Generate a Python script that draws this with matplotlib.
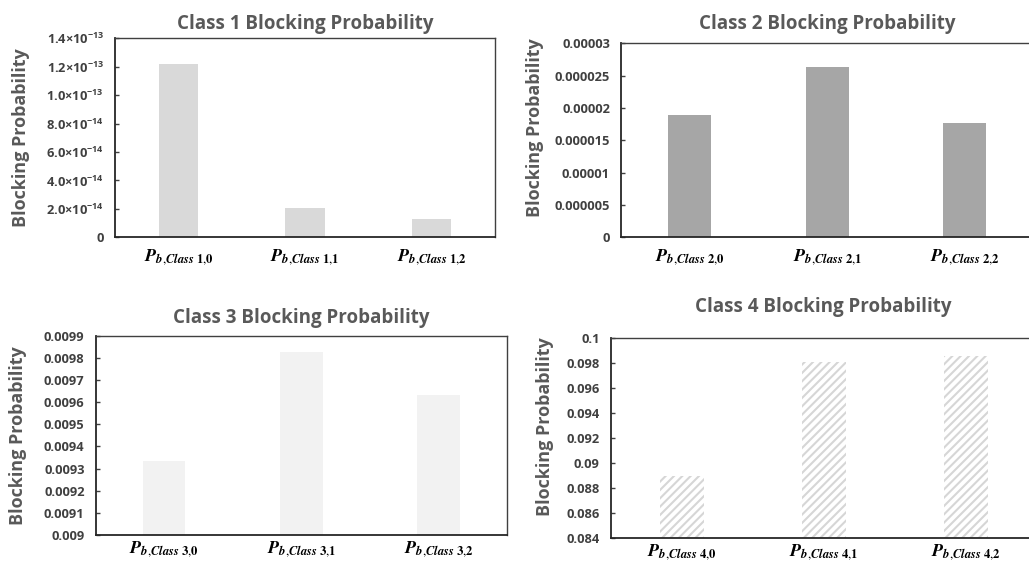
import matplotlib
matplotlib.use("Agg")
import matplotlib.pyplot as plt

plt.rcParams['font.family'] = ['Open Sans', 'DejaVu Sans']
plt.rcParams['mathtext.fontset'] = 'stix'
plt.rcParams['mathtext.rm'] = 'Open Sans:bold'
plt.rcParams['mathtext.bf'] = 'Open Sans:bold'
plt.rcParams['mathtext.it'] = 'Open Sans:bold:italic'
plt.rcParams['hatch.linewidth'] = 1.5

# data
class1_vals = [1.218e-13, 2.05e-14, 1.29e-14]
class2_vals = [1.89e-5, 2.636e-5, 1.775e-5]
class3_vals = [0.009332, 0.009827, 0.009633]
class4_vals = [0.08898, 0.09813, 0.09858]

class1_ticks = [0, 2e-14, 4e-14, 6e-14, 8e-14, 1e-13, 1.2e-13, 1.4e-13]
class1_ticklabels = ['0', r'2.0×10$^{-14}$', r'4.0×10$^{-14}$', r'6.0×10$^{-14}$',
                     r'8.0×10$^{-14}$', r'1.0×10$^{-13}$', r'1.2×10$^{-13}$', r'1.4×10$^{-13}$']
class2_ticks = [0, 0.000005, 0.00001, 0.000015, 0.00002, 0.000025, 0.00003]
class2_ticklabels = ['0', '0.000005', '0.00001', '0.000015', '0.00002', '0.000025', '0.00003']
class3_ticks = [0.009, 0.0091, 0.0092, 0.0093, 0.0094, 0.0095, 0.0096, 0.0097, 0.0098, 0.0099]
class3_ticklabels = ['0.009', '0.0091', '0.0092', '0.0093', '0.0094', '0.0095', '0.0096',
                     '0.0097', '0.0098', '0.0099']
class4_ticks = [0.084, 0.086, 0.088, 0.09, 0.092, 0.094, 0.096, 0.098, 0.1]
class4_ticklabels = ['0.084', '0.086', '0.088', '0.09', '0.092', '0.094', '0.096', '0.098', '0.1']


def xlabels(c):
    return [r'$\mathbfit{P}_{\mathbfit{b}{,}\mathbfit{Class}\ \mathbf{%d}{,}\mathbf{%d}}$' % (c, i)
            for i in range(3)]


fig = plt.figure(figsize=(10.29, 5.63), dpi=100)

panels = [
    # rect, values, ylim, ticks, ticklabels, color, hatch, title, class, title pad, ylabel pos, xlabel pad
    ([0.1118, 0.5785, 0.3693, 0.3535], class1_vals, (0, 1.4e-13), class1_ticks, class1_ticklabels,
     '#d9d9d9', None, 'Class 1 Blocking Probability', 1, 7, (-0.225, 0.5), 7),
    ([0.6035, 0.5785, 0.4009, 0.3445], class2_vals, (0, 0.00003), class2_ticks, class2_ticklabels,
     '#a6a6a6', None, 'Class 2 Blocking Probability', 2, 10, (-0.186, 0.564), 7),
    ([0.0930, 0.0497, 0.3997, 0.3540], class3_vals, (0.009, 0.0099), class3_ticks, class3_ticklabels,
     '#f2f2f2', None, 'Class 3 Blocking Probability', 3, 9, (-0.167, 0.5), 3),
    ([0.5935, 0.0439, 0.4140, 0.3552], class4_vals, (0.084, 0.1), class4_ticks, class4_ticklabels,
     'white', '////', 'Class 4 Blocking Probability', 4, 19, (-0.133, 0.558), 3),
]

for rect, vals, ylim, ticks, tlabels, color, hatch, title, c, tpad, ylpos, xpad in panels:
    ax = fig.add_axes(rect)
    x = range(len(vals))
    if hatch:
        ax.bar(x, [v - ylim[0] for v in vals], bottom=ylim[0], width=0.31, color='white',
               edgecolor='#d6d6d6', hatch=hatch, linewidth=0)
    else:
        ax.bar(x, [v - ylim[0] for v in vals], bottom=ylim[0], width=0.31, color=color)
    ax.set_xlim(-0.5, 2.5)
    ax.set_ylim(*ylim)
    ax.set_yticks(ticks)
    ax.set_yticklabels(tlabels, fontsize=9.3, fontweight='bold', color='#404040')
    for t in ax.get_yticklabels():
        t.set_math_fontfamily('custom')
    ax.set_xticks(list(x))
    ax.set_xticklabels(xlabels(c), fontsize=13, color='black')
    ax.tick_params(axis='y', direction='in', length=3, width=1, color='#404040', pad=8)
    ax.tick_params(axis='x', length=0, pad=xpad)
    for s in ['left', 'bottom']:
        ax.spines[s].set_color('#262626')
        ax.spines[s].set_linewidth(1.3)
    for s in ['top', 'right']:
        ax.spines[s].set_color('#404040')
        ax.spines[s].set_linewidth(1.0)
    ax.set_title(title, fontsize=13.5, fontweight='bold', color='#595959', pad=tpad)
    ax.set_ylabel('Blocking Probability', fontsize=13, fontweight='bold', color='#595959')
    ax.yaxis.set_label_coords(*ylpos)

fig.savefig('out.png', dpi=100)
